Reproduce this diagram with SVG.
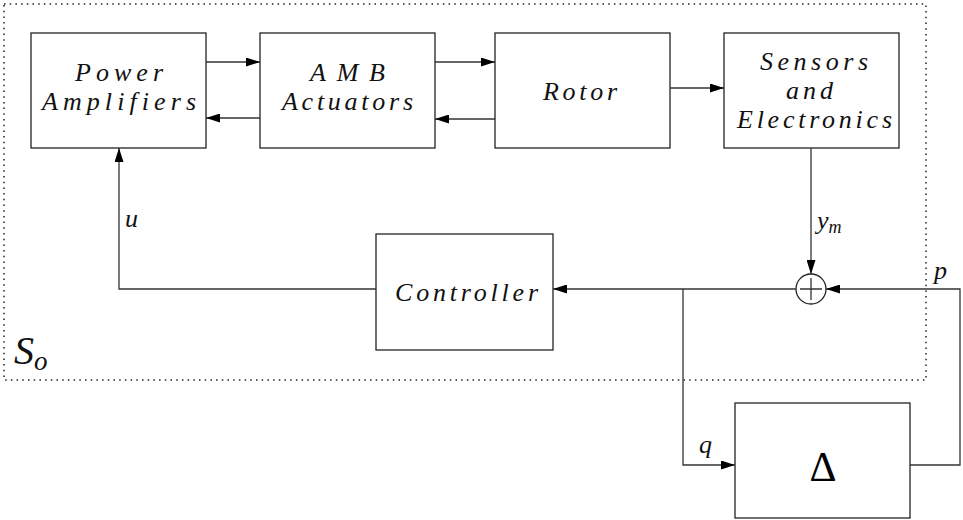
<svg xmlns="http://www.w3.org/2000/svg" width="963" height="520" viewBox="0 0 963 520">
<style>
.box{fill:#fff;stroke:#222;stroke-width:1.3}
.ln{fill:none;stroke:#333;stroke-width:1.3}
.t{font-family:"Liberation Serif","DejaVu Serif",serif;font-style:italic;font-size:26px;fill:#111;text-anchor:start}
.s{font-family:"Liberation Serif","DejaVu Serif",serif;font-style:italic;font-size:26px;fill:#111}
</style>
<defs>
<marker id="ah" viewBox="0 0 14 9" refX="14" refY="4.5" markerWidth="14" markerHeight="9" markerUnits="userSpaceOnUse" orient="auto">
<path d="M0,0 L14,4.5 L0,9 Z" fill="#000"/>
</marker>
</defs>
<rect x="4" y="4" width="922" height="376" fill="none" stroke="#222" stroke-width="1.5" stroke-dasharray="1.5 4.2"/>
<g id="power-amplifiers">
<rect class="box" x="31" y="33" width="175" height="115"/>
<text class="t" x="75" y="81" textLength="88" lengthAdjust="spacing">Power</text>
<text class="t" x="42" y="110" textLength="154" lengthAdjust="spacing">Amplifiers</text>
</g>
<g id="amb-actuators">
<rect class="box" x="260" y="33" width="175" height="115"/>
<text class="t" x="310" y="81" textLength="75" lengthAdjust="spacing">AMB</text>
<text class="t" x="282" y="110" textLength="131" lengthAdjust="spacing">Actuators</text>
</g>
<g id="rotor">
<rect class="box" x="495" y="33" width="175" height="115"/>
<text class="t" x="543" y="100" textLength="74" lengthAdjust="spacing">Rotor</text>
</g>
<g id="sensors">
<rect class="box" x="724" y="33" width="175" height="115"/>
<text class="t" x="760" y="70" textLength="108" lengthAdjust="spacing">Sensors</text>
<text class="t" x="786" y="99" textLength="47" lengthAdjust="spacing">and</text>
<text class="t" x="737" y="128" textLength="155" lengthAdjust="spacing">Electronics</text>
</g>
<g id="controller">
<rect class="box" x="376" y="234" width="177" height="116"/>
<text class="t" x="395" y="301" textLength="143" lengthAdjust="spacing">Controller</text>
</g>
<g id="sum">
<circle cx="811" cy="289" r="15" fill="#fff" stroke="#222" stroke-width="1.3"/>
<path class="ln" d="M800,289 H822 M811,278 V300"/>
</g>
<g id="delta">
<rect class="box" x="735" y="403" width="175" height="115"/>
<text x="823" y="481" text-anchor="middle" font-family="'Liberation Serif',serif" font-size="42" fill="#000">Δ</text>
</g>
<g id="connectors">
<path class="ln" d="M206,62 H260" marker-end="url(#ah)"/>
<path class="ln" d="M260,118 H206" marker-end="url(#ah)"/>
<path class="ln" d="M435,62 H495" marker-end="url(#ah)"/>
<path class="ln" d="M495,119 H435" marker-end="url(#ah)"/>
<path class="ln" d="M670,88 H724" marker-end="url(#ah)"/>
<path class="ln" d="M811,148 V274" marker-end="url(#ah)"/>
<path class="ln" d="M910,465 H960 V289 H826" marker-end="url(#ah)"/>
<path class="ln" d="M796,289 H553" marker-end="url(#ah)"/>
<path class="ln" d="M683,289 V465 H735" marker-end="url(#ah)"/>
<path class="ln" d="M376,289 H119 V148" marker-end="url(#ah)"/>
</g>
<g id="labels">
<text class="s" x="125" y="227">u</text>
<text class="s" x="817" y="229">y<tspan font-size="18" dy="4">m</tspan></text>
<text class="s" x="934" y="279">p</text>
<text class="s" x="699" y="453">q</text>
<text x="14" y="364" font-family="'Liberation Serif',serif" font-style="italic" font-size="40" fill="#111">S<tspan font-size="27" dy="6">o</tspan></text>
</g>
</svg>
